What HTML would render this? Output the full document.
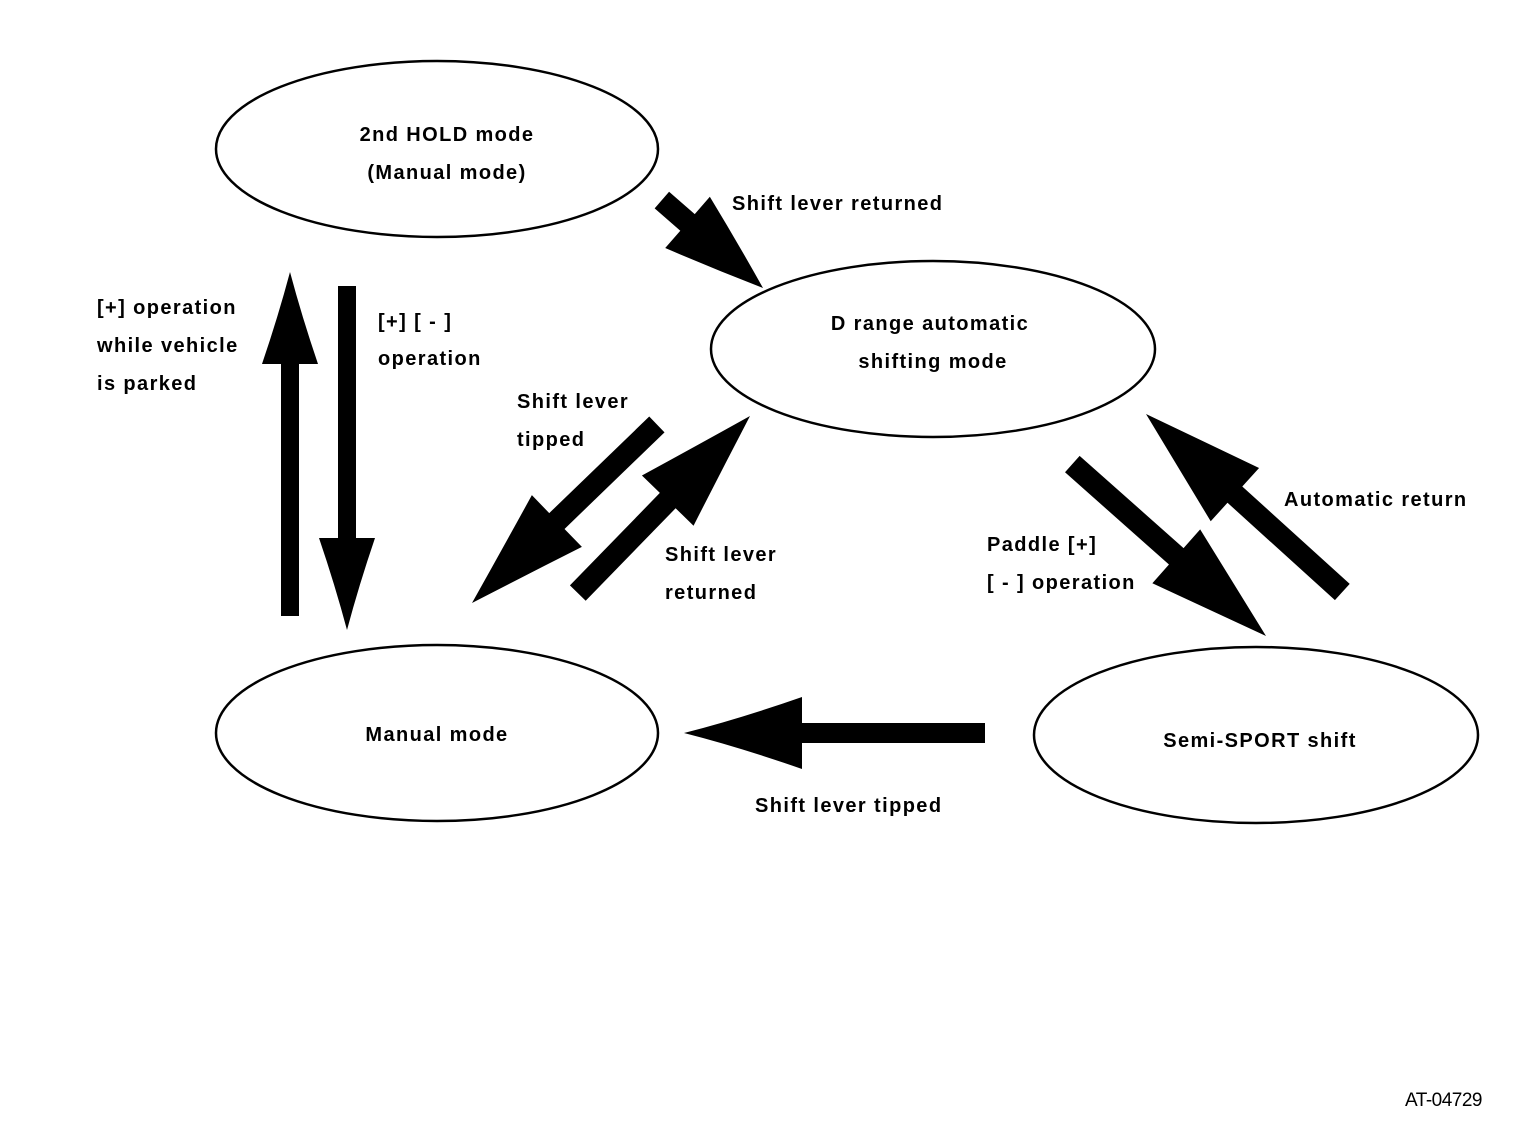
<!DOCTYPE html>
<html><head><style>
html,body{margin:0;padding:0;background:#fff}
svg{display:block}
text{font-family:"Liberation Sans",Arial,sans-serif;font-weight:bold;font-size:20px;letter-spacing:1.4px;fill:#000}
</style></head><body>
<svg width="1536" height="1138" viewBox="0 0 1536 1138" xmlns="http://www.w3.org/2000/svg">
<g fill="none" stroke="#000" stroke-width="2.5">
<ellipse cx="437" cy="149" rx="221" ry="88"/>
<ellipse cx="933" cy="349" rx="222" ry="88"/>
<ellipse cx="437" cy="733" rx="221" ry="88"/>
<ellipse cx="1256" cy="735" rx="222" ry="88"/>
</g>
<g fill="#000">
<path transform="translate(290,272) rotate(-90)" d="M0,0 Q-45,-12 -92,-28 L-92,-9 L-344,-9 L-344,9 L-92,9 L-92,28 Q-45,12 0,0 Z"/>
<path transform="translate(347,630) rotate(90)" d="M0,0 Q-45,-12 -92,-28 L-92,-9 L-344,-9 L-344,9 L-92,9 L-92,28 Q-45,12 0,0 Z"/>
<path transform="translate(763,288) rotate(41)" d="M0,0 Q-50,-18 -100,-34 L-100,-11 L-134,-11 L-134,11 L-100,11 L-100,34 Q-50,18 0,0 Z"/>
<path transform="translate(472,603) rotate(136)" d="M0,0 Q-60,-18 -118,-36 L-118,-11 L-257,-11 L-257,11 L-118,11 L-118,36 Q-60,18 0,0 Z"/>
<path transform="translate(750,416) rotate(-45.8)" d="M0,0 Q-60,-18 -118,-36 L-118,-11 L-247,-11 L-247,11 L-118,11 L-118,36 Q-60,18 0,0 Z"/>
<path transform="translate(1266,636) rotate(41.6)" d="M0,0 Q-60,-18 -120,-36 L-120,-11 L-259,-11 L-259,11 L-120,11 L-120,36 Q-60,18 0,0 Z"/>
<path transform="translate(1146,414) rotate(222.2)" d="M0,0 Q-60,-18 -120,-36 L-120,-11 L-265,-11 L-265,11 L-120,11 L-120,36 Q-60,18 0,0 Z"/>
<path transform="translate(684,733) rotate(180)" d="M0,0 Q-55,-14 -118,-36 L-118,-10 L-301,-10 L-301,10 L-118,10 L-118,36 Q-55,14 0,0 Z"/>
</g>
<text x="447" y="141" text-anchor="middle">2nd HOLD mode</text>
<text x="447" y="179" text-anchor="middle">(Manual mode)</text>
<text x="930" y="330" text-anchor="middle">D range automatic</text>
<text x="933" y="368" text-anchor="middle">shifting mode</text>
<text x="437" y="741" text-anchor="middle">Manual mode</text>
<text x="1260" y="747" text-anchor="middle">Semi-SPORT shift</text>
<text x="732" y="210">Shift lever returned</text>
<text x="97" y="314">[+] operation</text>
<text x="97" y="352">while vehicle</text>
<text x="97" y="390">is parked</text>
<text x="378" y="328">[+] [ - ]</text>
<text x="378" y="365">operation</text>
<text x="517" y="408">Shift lever</text>
<text x="517" y="446">tipped</text>
<text x="665" y="561">Shift lever</text>
<text x="665" y="599">returned</text>
<text x="987" y="551">Paddle [+]</text>
<text x="987" y="589">[ - ] operation</text>
<text x="1284" y="506">Automatic return</text>
<text x="755" y="812">Shift lever tipped</text>
<text x="1405" y="1106" style="font-weight:normal;font-size:19px;letter-spacing:-0.5px">AT-04729</text>
</svg>
</body></html>
